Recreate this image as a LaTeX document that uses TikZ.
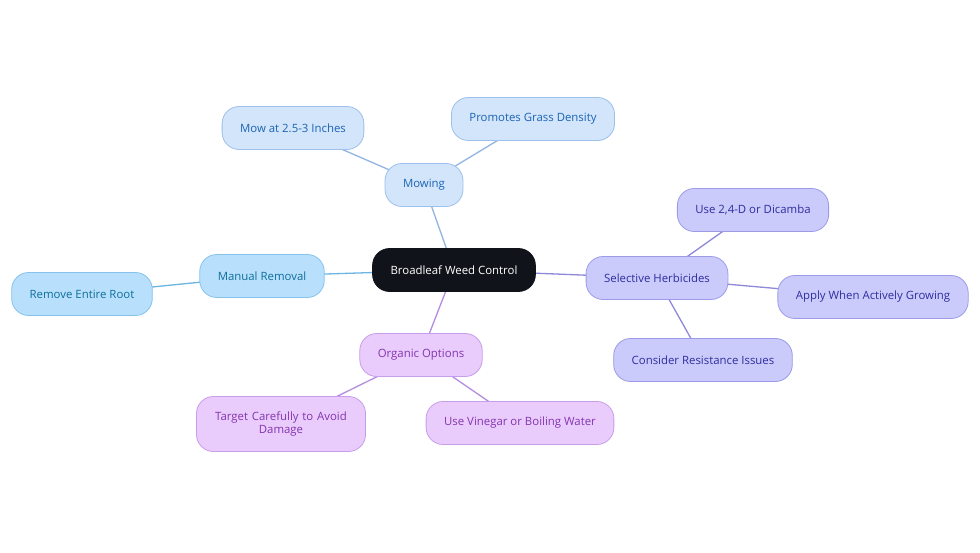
\documentclass[tikz,border=0pt]{standalone}
\usepackage{fontspec}
\setmainfont{Open Sans}
\usepackage{xcolor}
\definecolor{root}{HTML}{10141A}
\definecolor{mowfill}{HTML}{D2E5FB}
\definecolor{mowdraw}{HTML}{9DC0EC}
\definecolor{mowtext}{HTML}{1C64B4}
\definecolor{mowline}{HTML}{92B5E2}
\definecolor{manfill}{HTML}{B8E0FC}
\definecolor{mandraw}{HTML}{86C3EC}
\definecolor{mantext}{HTML}{0E6E9C}
\definecolor{manline}{HTML}{6DB6E3}
\definecolor{herbfill}{HTML}{CBCBFB}
\definecolor{herbdraw}{HTML}{9C9BEA}
\definecolor{herbtext}{HTML}{2D2DA0}
\definecolor{herbline}{HTML}{8D88DA}
\definecolor{orgfill}{HTML}{E9CCFB}
\definecolor{orgdraw}{HTML}{C89DE9}
\definecolor{orgtext}{HTML}{8434B0}
\definecolor{orgline}{HTML}{B48CE2}
\usetikzlibrary{backgrounds}
\tikzset{
  pill/.style={rounded corners=17pt,line width=0.8pt,minimum height=43pt,inner xsep=18pt,font=\fontsize{11.4}{13.5}\selectfont,align=center},
  rootbox/.style={pill,fill=root,draw=root,text=white},
  mowbox/.style={pill,fill=mowfill,draw=mowdraw,text=mowtext},
  manbox/.style={pill,fill=manfill,draw=mandraw,text=mantext},
  herbbox/.style={pill,fill=herbfill,draw=herbdraw,text=herbtext},
  orgbox/.style={pill,fill=orgfill,draw=orgdraw,text=orgtext},
  link/.style={line width=1.3pt},
}
\begin{document}
\begin{tikzpicture}[x=1pt,y=-1pt]
\useasboundingbox (0,0) rectangle (980,553);
% centre
\node[rootbox] (weed) at (454,270) {Broadleaf Weed Control};
% mowing
\node[mowbox] (mow) at (424,185) {Mowing};
\node[mowbox] (height) at (293,128) {Mow at 2.5-3 Inches};
\node[mowbox] (dense) at (533,119) {Promotes Grass Density};
% manual
\node[manbox] (manual) at (262,276) {Manual Removal};
\node[manbox] (root) at (82,294) {Remove Entire Root};
% herbicides
\node[herbbox] (herb) at (657,278) {Selective Herbicides};
\node[herbbox] (dicamba) at (753,210) {Use 2,4-D or Dicamba};
\node[herbbox] (grow) at (873,297) {Apply When Actively Growing};
\node[herbbox] (resist) at (703,360) {Consider Resistance Issues};
% organic
\node[orgbox] (organic) at (421,355) {Organic Options};
\node[orgbox,text width=133pt,minimum height=55pt] (target) at (281,424) {Target Carefully to Avoid\\Damage};
\node[orgbox] (vinegar) at (520,423) {Use Vinegar or Boiling Water};
\begin{scope}[on background layer]
\fill[white] (0,0) rectangle (980,553);
\foreach \u/\v in {weed/mow,mow/height,mow/dense} \draw[link,mowline] (\u.center)--(\v.center);
\foreach \u/\v in {weed/manual,manual/root} \draw[link,manline] (\u.center)--(\v.center);
\foreach \u/\v in {weed/herb,herb/dicamba,herb/grow,herb/resist} \draw[link,herbline] (\u.center)--(\v.center);
\foreach \u/\v in {weed/organic,organic/target,organic/vinegar} \draw[link,orgline] (\u.center)--(\v.center);
\end{scope}
\end{tikzpicture}
\end{document}
